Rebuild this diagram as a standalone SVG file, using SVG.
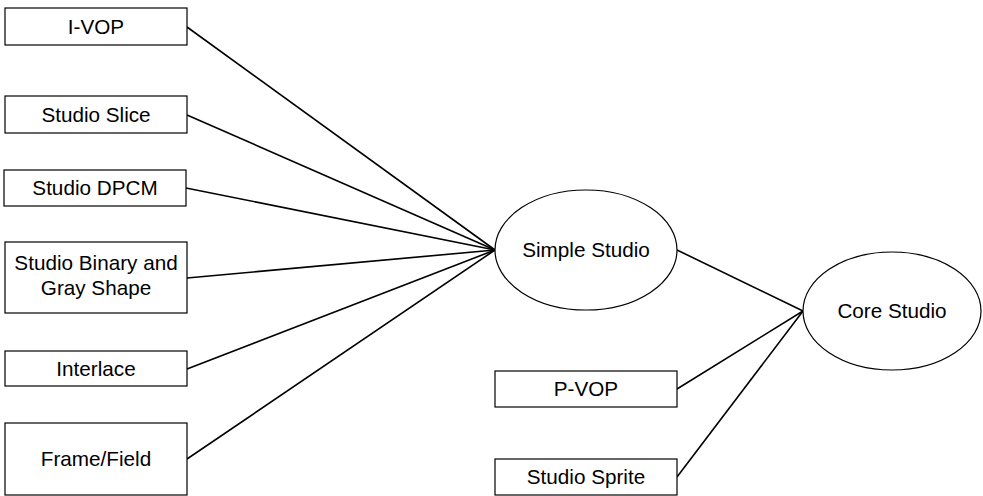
<svg xmlns="http://www.w3.org/2000/svg" width="983" height="496" viewBox="0 0 983 496">
<style>
.box{fill:#fff;stroke:#000;stroke-width:1.2}
.ell{fill:#fff;stroke:#000;stroke-width:1.2}
.lbl{font-family:"Liberation Sans",Arial,sans-serif;font-size:20.7px;fill:#000;text-anchor:middle}
.conn line{stroke:#000;stroke-width:1.6}
</style>
<rect width="983" height="496" fill="#fff"/>
<g id="connectors" class="conn">
<line x1="187" y1="27" x2="495" y2="250"/>
<line x1="187" y1="115" x2="495" y2="250"/>
<line x1="186" y1="188" x2="495" y2="250"/>
<line x1="187" y1="278" x2="495" y2="250"/>
<line x1="187" y1="369" x2="495" y2="250"/>
<line x1="187" y1="459" x2="495" y2="250"/>
<line x1="677" y1="250" x2="803" y2="311"/>
<line x1="677" y1="389" x2="803" y2="311"/>
<line x1="677" y1="477" x2="803" y2="311"/>
</g>
<g id="ivop"><rect class="box" x="5" y="8" width="182" height="37"/><text class="lbl" x="96" y="34">I-VOP</text></g>
<g id="slice"><rect class="box" x="5" y="96" width="182" height="37"/><text class="lbl" x="96" y="122">Studio Slice</text></g>
<g id="dpcm"><rect class="box" x="4" y="170" width="182" height="36"/><text class="lbl" x="95" y="195">Studio DPCM</text></g>
<g id="binary"><rect class="box" x="5" y="242" width="182" height="71"/><text class="lbl" x="96" y="270">Studio Binary and</text><text class="lbl" x="96" y="295">Gray Shape</text></g>
<g id="interlace"><rect class="box" x="5" y="351" width="182" height="35"/><text class="lbl" x="96" y="376">Interlace</text></g>
<g id="framefield"><rect class="box" x="5" y="423" width="182" height="72"/><text class="lbl" x="96" y="466">Frame/Field</text></g>
<g id="simple"><ellipse class="ell" cx="586" cy="250" rx="91" ry="60"/><text class="lbl" x="586" y="257">Simple Studio</text></g>
<g id="core"><ellipse class="ell" cx="892" cy="311" rx="89" ry="59"/><text class="lbl" x="892" y="318">Core Studio</text></g>
<g id="pvop"><rect class="box" x="495" y="371" width="182" height="36"/><text class="lbl" x="586" y="396">P-VOP</text></g>
<g id="sprite"><rect class="box" x="495" y="459" width="182" height="36"/><text class="lbl" x="586" y="484">Studio Sprite</text></g>
</svg>
